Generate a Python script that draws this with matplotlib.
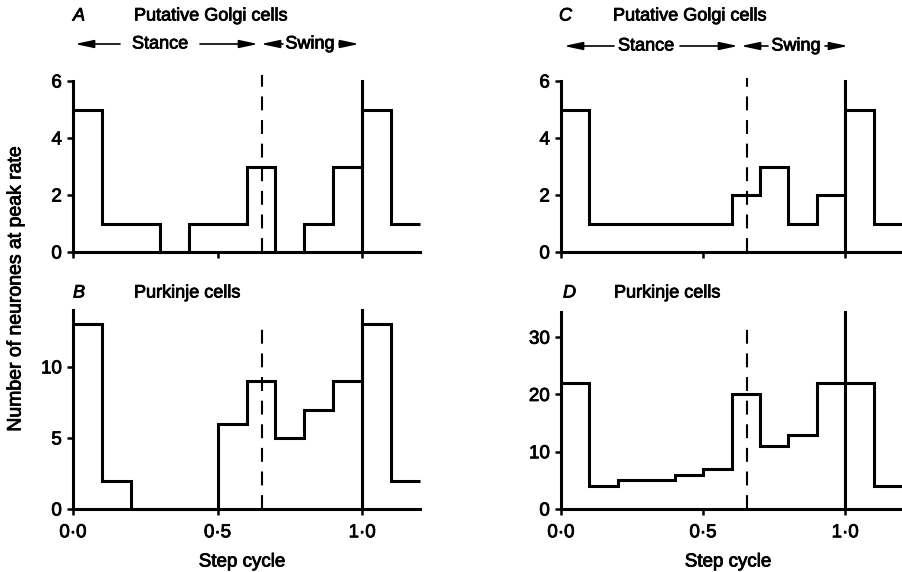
import matplotlib.pyplot as plt
from matplotlib.patches import FancyArrowPatch
import matplotlib.patheffects as pe

plt.rcParams['font.family'] = ['Liberation Sans', 'DejaVu Sans']
plt.rcParams['lines.scale_dashes'] = False

# bins of the step cycle (phase), 0.1 wide
bin_edges = [0.0, 0.1, 0.2, 0.3, 0.4, 0.5, 0.6, 0.7, 0.8, 0.9, 1.0, 1.1, 1.2]

# number of neurones at peak rate in each bin
golgi_a = [5, 1, 1, 0, 1, 1, 3, 0, 1, 3, 5, 1]
purkinje_b = [13, 2, 0, 0, 0, 6, 9, 5, 7, 9, 13, 2]
golgi_c = [5, 1, 1, 1, 1, 1, 2, 3, 1, 2, 5, 1]
purkinje_d = [22, 4, 5, 5, 6, 7, 20, 11, 13, 22, 22, 4]

panel_letters = ['A', 'B', 'C', 'D']
panel_titles = ['Putative Golgi cells', 'Purkinje cells',
                'Putative Golgi cells', 'Purkinje cells']
y_ticks = [[0, 2, 4, 6], [0, 5, 10], [0, 2, 4, 6], [0, 10, 20, 30]]
y_limits = [6, 14, 6, 34.4]
x_ticks = [0.0, 0.5, 1.0]
x_ticklabels = ['0·0', '0·5', '1·0']

stance_end = 0.655      # dashed line: end of stance
cycle_end = 1.0         # solid line: end of step cycle
dash_tops = [6.2, 13, 6.1, 32]

W, H = 902, 572
LW = 2.2
# printed text is a bit heavier than plain Liberation Sans
bold_ink = [pe.withStroke(linewidth=0.6, foreground='k')]


def fig_xy(x, y):
    # pixel position (from top-left) -> figure fraction
    return x / W, 1 - y / H


def put_text(x, y, s, **kw):
    t = fig.text(*fig_xy(x, y), s, va='center', **kw)
    t.set_path_effects(bold_ink)
    return t


fig = plt.figure(figsize=(W / 100, H / 100), dpi=100)

# axes boxes in pixels: left, bottom, right, top
boxes = [(73, 252, 420, 81), (73, 509, 420, 310),
         (561, 252, 902, 81), (561, 509, 902, 312)]
data = [golgi_a, purkinje_b, golgi_c, purkinje_d]

for i, (l, b, r, t) in enumerate(boxes):
    x0, y0 = fig_xy(l, b)
    ax = fig.add_axes([x0, y0, (r - l) / W, (b - t) / H])
    ax.stairs(data[i], bin_edges, baseline=None, color='k', lw=LW, clip_on=False)
    ax.plot([stance_end, stance_end], [0, dash_tops[i]], color='k', lw=1.5,
            dashes=(10, 7), clip_on=False)
    ax.axvline(cycle_end, color='k', lw=LW, clip_on=False)
    ax.set_xlim(0, 1.2)
    ax.set_ylim(0, y_limits[i])
    for s in ['top', 'right']:
        ax.spines[s].set_visible(False)
    for s in ['left', 'bottom']:
        ax.spines[s].set_linewidth(LW)
    ax.set_yticks(y_ticks[i])
    ax.set_xticks(x_ticks)
    ax.tick_params(direction='out', length=4, width=1.8, labelsize=13.5, pad=4)
    ax.tick_params(axis='x', pad=7)
    if i in (1, 3):
        ax.set_xticklabels(x_ticklabels)
    else:
        ax.tick_params(axis='x', labelbottom=False)
    for lab in ax.get_xticklabels() + ax.get_yticklabels():
        lab.set_path_effects(bold_ink)

# panel letters and titles
title_pos = [(73, 134, 16), (73, 134, 293), (559, 613, 16), (563, 614, 293)]
for i, (lx, tx, y) in enumerate(title_pos):
    put_text(lx, y, panel_letters[i], fontsize=13, style='italic', ha='left')
    put_text(tx, y, panel_titles[i], fontsize=13, ha='left')

# stance / swing labels with arrows
phase_rows = [
    dict(y=44, stance=160, swing=310,
         arrows=[(120, 75), (200, 258), (283, 261), (339, 359)]),
    dict(y=46, stance=646, swing=796,
         arrows=[(614, 564), (680, 738), (768, 741), (825, 848)]),
]
for row in phase_rows:
    put_text(row['stance'], row['y'], 'Stance', fontsize=13, ha='center')
    put_text(row['swing'], row['y'], 'Swing', fontsize=13, ha='center')
    for start, tip in row['arrows']:
        fig.add_artist(FancyArrowPatch(
            fig_xy(start, row['y']), fig_xy(tip, row['y']),
            transform=fig.transFigure,
            arrowstyle='-|>,head_length=0.7,head_width=0.15',
            mutation_scale=16, lw=1.2, color='k', shrinkA=0, shrinkB=0))

# axis labels
put_text(16, 288, 'Number of neurones at peak rate', fontsize=14,
         rotation=90, ha='center')
put_text(242, 562, 'Step cycle', fontsize=13.5, ha='center')
put_text(728, 562, 'Step cycle', fontsize=13.5, ha='center')

fig.savefig('out.png', dpi=100)
